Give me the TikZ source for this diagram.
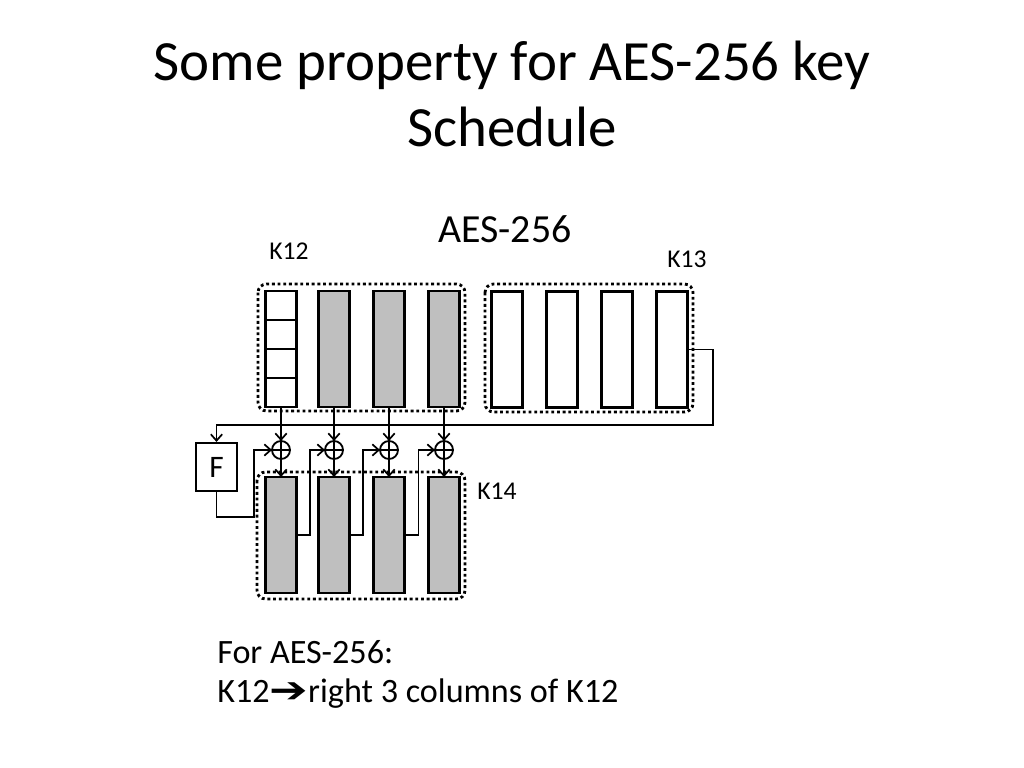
\documentclass[tikz,border=0pt]{standalone}
\usepackage{fontspec}
\setmainfont{Carlito}
\newfontfamily\symfont{DejaVu Sans}
\usetikzlibrary{arrows.meta,calc}
\def\px{0.703125pt}
\begin{document}
\begin{tikzpicture}[x=0.703125pt,y=-0.703125pt,
  colbox/.style={draw,line width=2pt,minimum width=31*\px,minimum height=116*\px,inner sep=0pt,outer sep=0pt},
  grey/.style={colbox,fill=black!25},
  white/.style={colbox,fill=white},
  group/.style={draw,line width=2pt,dash pattern=on 2pt off 2pt,rounded corners=6pt},
  xor/.style={circle,draw,line width=1.3pt,minimum size=18*\px,inner sep=0pt,outer sep=0pt,
    path picture={\draw[line width=1.3pt] (path picture bounding box.north) -- (path picture bounding box.south)
      (path picture bounding box.west) -- (path picture bounding box.east);}},
  wire/.style={line width=1.2pt},
  arr/.style={wire,-{Straight Barb[length=4.5pt,width=8pt,line width=1.2pt]}},
  lbl/.style={font=\fontsize{18}{22}\selectfont,anchor=base,inner sep=0pt}
]
\useasboundingbox[fill=white] (0,0) rectangle (1024,768);

% title
\node[anchor=base,inner sep=0pt,font=\fontsize{40}{48}\selectfont] (t1) at (512,81) {Some property for AES-256 key};
\node[anchor=base,inner sep=0pt,font=\fontsize{40}{48}\selectfont] (t2) at (512,147) {Schedule};
\node[anchor=base,inner sep=0pt,font=\fontsize{28}{34}\selectfont] (aes) at (505,243) {AES-256};
\node[lbl] (k12) at (289,260) {K12};
\node[lbl] (k13) at (687,268) {K13};
\node[lbl] (k14) at (497,499) {K14};

% group boxes
\draw[group] (258,284) rectangle (465,411);
\draw[group] (485,284) rectangle (693,412);
\draw[group] (257,472) rectangle (465,599);

% K12 columns
\node[white] (a1) at (281,349) {};
\node[grey] (a2) at (334,349) {};
\node[grey] (a3) at (389,349) {};
\node[grey] (a4) at (444,349) {};
\foreach \f in {0.25,0.5,0.75}
  \draw[line width=2pt] ($(a1.north west)!\f!(a1.south west)$) -- ($(a1.north east)!\f!(a1.south east)$);

% K13 columns
\node[white] (c1) at (507,349.5) {};
\node[white] (c2) at (562,349.5) {};
\node[white] (c3) at (617,349.5) {};
\node[white] (c4) at (672,349.5) {};

% K14 columns
\node[grey] (b1) at (281,535) {};
\node[grey] (b2) at (334,535) {};
\node[grey] (b3) at (389,535) {};
\node[grey] (b4) at (444,535) {};

% xors
\node[xor] (x1) at (281,450) {};
\node[xor] (x2) at (334,450) {};
\node[xor] (x3) at (389,450) {};
\node[xor] (x4) at (444,450) {};

% F box
\node[draw,line width=1.5pt,minimum width=41*\px,minimum height=48*\px,inner sep=0pt,font=\fontsize{22}{26}\selectfont] (F) at (216.5,467) {F};

% bus from K13
\coordinate (busR) at (713,425);
\coordinate (busL) at (216.5,425);
\draw[arr] (c4.east) -| (busR) -- (busL) -- (F.north);

% column to xor and xor to K14
\foreach \i in {1,2,3,4} {
  \draw[arr] (a\i.south) -- (x\i.north);
  \draw[arr] (x\i.south) -- (b\i.north);
}

% F output
\coordinate (fr) at (254,517);
\draw[arr] (F.south) |- (fr) |- (x1.west);
\draw[arr] (b1.east) -- ++(13.5,0) |- (x2.west);
\draw[arr] (b2.east) -- ++(13.5,0) |- (x3.west);
\draw[arr] (b3.east) -- ++(14,0) |- (x4.west);

% bottom text
\node[anchor=base west,inner sep=0pt,font=\fontsize{24}{29}\selectfont] (n1) at (217,663) {For AES-256:};
\node[anchor=base west,inner sep=0pt,font=\fontsize{24}{29}\selectfont] (n2) at (217,702) {K12{\symfont\bfseries\scalebox{1.35}[1.05]{➔}}right 3 columns of K12};
\end{tikzpicture}
\end{document}
